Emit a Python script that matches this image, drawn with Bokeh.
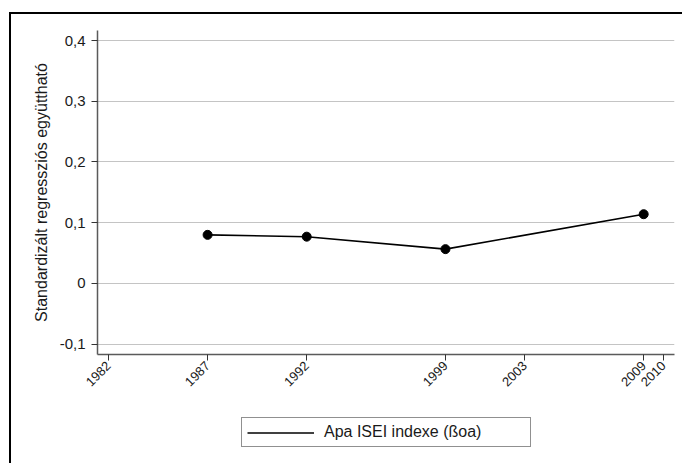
import math
from bokeh.plotting import figure
from bokeh.layouts import column
from bokeh.models import (Range1d, FixedTicker, Legend, LegendItem)
from bokeh.embed import file_html
from bokeh.resources import INLINE

# ---- data ----
years = [1987, 1992, 1999, 2009]
beta_apa_isei = [0.080, 0.077, 0.0565, 0.114]
x_ticks = [1982, 1987, 1992, 1999, 2003, 2009, 2010]
y_ticks = [-0.1, 0.0, 0.1, 0.2, 0.3, 0.4]
y_tick_labels = ["-0,1", "0", "0,1", "0,2", "0,3", "0,4"]
series_label = "Apa ISEI indexe (ßoa)"
y_label = "Standardizált regressziós együttható"

FONT = "Liberation Sans"
LINE_W = 1.6
X_RANGE = (1981.445, 2010.555)
Y_RANGE = (-0.117, 0.4165)

p = figure(width=671, height=386, output_backend="svg", toolbar_location=None,
           x_range=Range1d(*X_RANGE), y_range=Range1d(*Y_RANGE),
           min_border_left=86, min_border_right=8, min_border_top=16, min_border_bottom=46)
p.outline_line_color = None
p.background_fill_color = "white"
p.border_fill_color = "white"

# grid
p.xgrid.visible = False
p.ygrid.grid_line_color = "#c4c4c4"
p.ygrid.grid_line_width = 1
p.ygrid.ticker = FixedTicker(ticks=y_ticks)

# axes
p.xaxis.ticker = FixedTicker(ticks=x_ticks)
p.yaxis.ticker = FixedTicker(ticks=y_ticks)
p.yaxis.major_label_overrides = {v: s for v, s in zip(y_ticks, y_tick_labels)}
for ax in (p.xaxis, p.yaxis):
    ax.axis_line_color = "#5a5a5a"
    ax.axis_line_width = 1.5
    ax.major_tick_line_color = "#333333"
    ax.major_tick_line_width = 1
    ax.major_tick_out = 6
    ax.major_tick_in = 0
    ax.minor_tick_line_color = None
    ax.major_label_text_font = FONT
    ax.major_label_text_color = "#1a1a1a"
    ax.major_label_standoff = 6
p.yaxis.major_label_text_font_size = "15px"
p.xaxis.major_label_text_font_size = "13px"
p.xaxis.major_label_orientation = math.pi / 4
p.xaxis.major_label_standoff = 3
p.yaxis.axis_label = y_label
p.yaxis.axis_label_text_font = FONT
p.yaxis.axis_label_text_font_style = "normal"
p.yaxis.axis_label_text_font_size = "16px"
p.yaxis.axis_label_text_color = "#1a1a1a"
p.yaxis.axis_label_standoff = 7

# data
p.line(years, beta_apa_isei, line_color="black", line_width=LINE_W)
p.scatter(years, beta_apa_isei, size=9, fill_color="black", line_color="black")

# legend strip below the plot (separate figure so that the legend is not clipped);
# its ranges hide the key line, which only supplies the legend glyph
p2 = figure(width=671, height=63, output_backend="svg", toolbar_location=None,
            x_range=Range1d(0, 1), y_range=Range1d(0, 1),
            min_border_left=0, min_border_right=0, min_border_top=0, min_border_bottom=0)
p2.axis.visible = False
p2.grid.visible = False
p2.outline_line_color = None
p2.background_fill_color = "white"
p2.border_fill_color = "white"
key_r = p2.line(years, beta_apa_isei, line_color="black", line_width=LINE_W)

legend = Legend(items=[LegendItem(label=series_label, renderers=[key_r])],
                location=(144, 16), orientation="vertical",
                padding=5, glyph_width=67, glyph_height=15, label_standoff=10,
                label_width=201, label_height=15,
                label_text_font=FONT, label_text_font_size="16px", label_text_color="#1a1a1a",
                border_line_color="#222222", border_line_width=1,
                background_fill_color="white", background_fill_alpha=1,
                spacing=0, margin=0)
p2.add_layout(legend, "center")

layout = column(p, p2, spacing=0,
                styles={"margin-left": "9px", "margin-top": "12px",
                        "border-left": "2px solid black", "border-top": "2px solid black"})

open("out.html", "w").write(file_html(layout, INLINE))
